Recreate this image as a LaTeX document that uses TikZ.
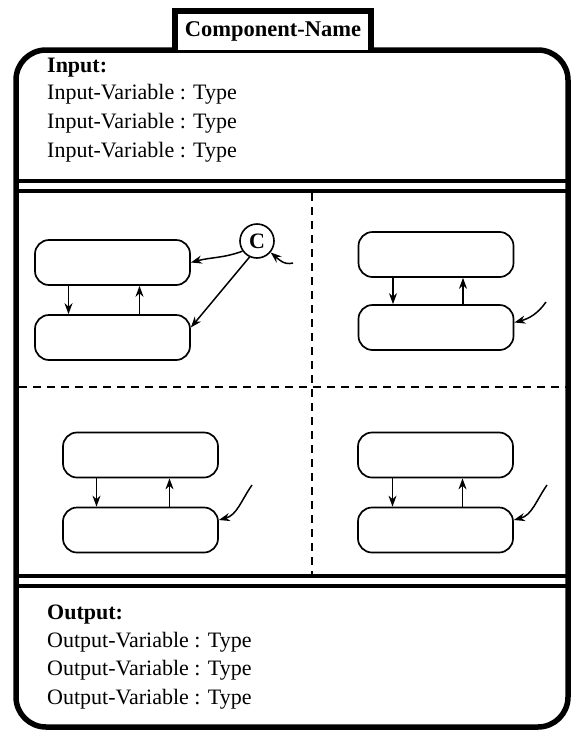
\documentclass[tikz,border=0pt]{standalone}
\usepackage{fontspec}
\setmainfont{Liberation Serif}
\usetikzlibrary{arrows.meta}
\tikzset{
  statebox/.style={draw, line width=1.7pt, rounded corners=14pt, minimum width=155pt, minimum height=45pt, inner sep=0pt},
  trans/.style={line width=1.5pt, -{Stealth[length=11pt,width=8pt,inset=3.5pt]}},
  sepline/.style={line width=3.8pt},
  partline/.style={line width=1.5pt, dash pattern=on 8pt off 6pt},
  txt/.style={anchor=base west, inner sep=0pt, font=\fontsize{22}{26}\selectfont},
  head/.style={txt, font=\fontsize{22}{26}\selectfont\bfseries}
}

\begin{document}
\begin{tikzpicture}[x=1pt,y=-1pt]
		\useasboundingbox (0,0) rectangle (571,731);
		%%%%% START %%%%%
		\draw[line width=5.5pt, rounded corners=30pt] (16,50) rectangle (568,727);
		\draw[line width=5.5pt, fill=white] (175,50) -- (175,11) -- (371,11) -- (371,50);
		\node[font=\fontsize{22.5}{26}\selectfont\bfseries] (name) at (273,31) {Component-Name};
		
		\node[head] (inhead) at (47,72) {Input:};
		\node[txt] (in1) at (47,99) {Input-Variable : Type};
		\node[txt] (in2) at (47,128) {Input-Variable : Type};
		\node[txt] (in3) at (47,157) {Input-Variable : Type};
		
		\draw[sepline] (16,181) -- (568,181);
		\draw[sepline] (16,191) -- (568,191);
		
		\draw[partline] (312,193) -- (312,575);
		\draw[partline] (19,387) -- (568,387);
		
		\node[statebox] (tlA) at (112.5,262.5) {};
		\node[statebox] (tlB) at (112.5,337.5) {};
		\draw[trans] ([xshift=-44pt]tlA.south) -- ([xshift=-44pt]tlB.north);
		\draw[trans] ([xshift=27pt]tlB.north) -- ([xshift=27pt]tlA.south);
		
		\node[draw, circle, line width=1.6pt, minimum size=34pt, inner sep=0pt, font=\fontsize{22}{24}\selectfont\bfseries] (hist) at (257,241) {C};
		\draw[trans] (hist.215) to[out=200, in=15] (tlA.east);
		\draw[trans] (hist.245) -- ([yshift=10pt]tlB.east);
		\coordinate (histin) at (293,263);
		\draw[trans] (histin) to[out=195, in=-40] (hist.-40);
		
		\node[statebox] (trA) at (436,254.5) {};
		\node[statebox] (trB) at (436,327.5) {};
		\draw[trans] ([xshift=-43pt]trA.south) -- ([xshift=-43pt]trB.north);
		\draw[trans] ([xshift=27pt]trB.north) -- ([xshift=27pt]trA.south);
		\coordinate (trin) at (546,302);
		\draw[trans] (trin) to[out=235, in=15] ([yshift=5pt]trB.east);
		
		\node[statebox] (blA) at (140.5,455) {};
		\node[statebox] (blB) at (140.5,530) {};
		\draw[trans] ([xshift=-44pt]blA.south) -- ([xshift=-44pt]blB.north);
		\draw[trans] ([xshift=29pt]blB.north) -- ([xshift=29pt]blA.south);
		\coordinate (blin) at (252,485);
		\draw[trans] (blin) to[out=235, in=15] ([yshift=10pt]blB.east);
		
		\node[statebox] (brA) at (435.5,455) {};
		\node[statebox] (brB) at (435.5,530) {};
		\draw[trans] ([xshift=-43pt]brA.south) -- ([xshift=-43pt]brB.north);
		\draw[trans] ([xshift=27pt]brB.north) -- ([xshift=27pt]brA.south);
		\coordinate (brin) at (547,485);
		\draw[trans] (brin) to[out=235, in=15] ([yshift=10pt]brB.east);
		
		\draw[sepline] (16,576) -- (568,576);
		\draw[sepline] (16,586) -- (568,586);
		
		\node[head] (outhead) at (47,619) {Output:};
		\node[txt] (out1) at (47,647) {Output-Variable : Type};
		\node[txt] (out2) at (47,675) {Output-Variable : Type};
		\node[txt] (out3) at (47,704) {Output-Variable : Type};
		%%%%% END %%%%%
\end{tikzpicture}
\end{document}
